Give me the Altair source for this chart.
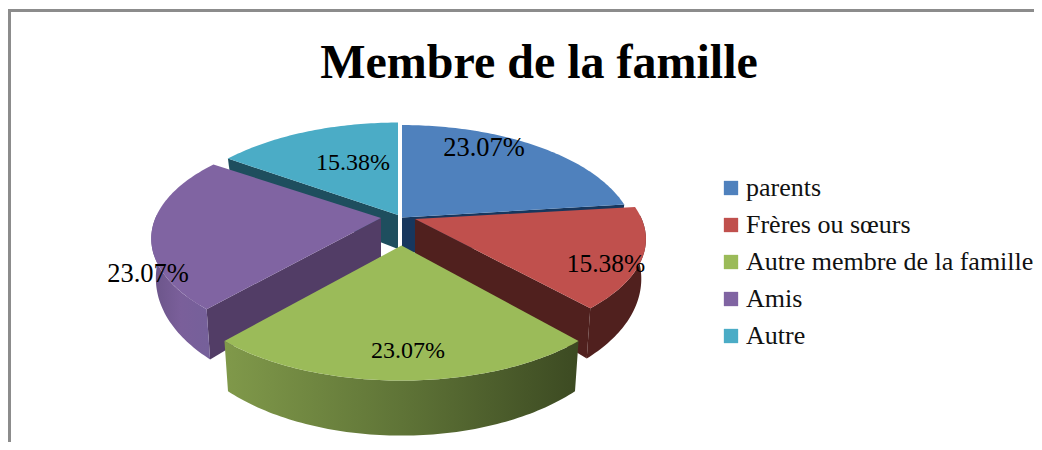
import math
import altair as alt
import pandas as pd

title = "Membre de la famille"
categories = ["parents", "Frères ou sœurs", "Autre membre de la famille", "Amis", "Autre"]
values = [23.07, 15.38, 23.07, 23.07, 15.38]
colors = ["#4f81bd", "#c0504d", "#9bbb59", "#8064a2", "#4bacc6"]
cut_colors = ["#17375e", "#50201e", "#3c4a22", "#523d66", "#1e4e5e"]

# layout of the exploded 3-D pie, in page pixels
apex = [(402, 217.5), (415, 219), (401.5, 245.5), (381, 218), (398, 215)]
apex_depth = [36, 36, 36, 39, 34]
squeeze_x = [1, 0.99, 1, 0.985, 1]
squeeze_y = [1, 0.93, 0.995, 0.95, 1]
label_pos = [(484, 156), (606, 272), (408, 358), (148, 282), (353, 170)]
label_size = [26.5, 25.5, 24, 26.5, 24]
A, B, K = 229, 110, 0.19
W, H = 1026, 434
OX, OY = 8, 8

xs = alt.Scale(domain=[OX, OX + W], range=[0, W])
ys = alt.Scale(domain=[OY, OY + H], range=[0, H])


def rim(i, deg):
    t = math.radians(deg)
    u, v = math.sin(t), -math.cos(t)
    d = 1 - K * v
    return apex[i][0] + squeeze_x[i] * A * u / d, apex[i][1] + squeeze_y[i] * B * v / d, v


def low(i, px, py, v):
    depth = 36 + 19 * v
    return apex[i][0] + (px - apex[i][0]) * 0.98, py + depth


def arc_pts(i, a0, a1):
    n = max(2, int(abs(a1 - a0)))
    return [rim(i, a0 + (a1 - a0) * j / n) for j in range(n + 1)]


def poly(pts, fill=None, cat=None):
    df = pd.DataFrame({"x": [p[0] for p in pts], "y": [p[1] for p in pts], "o": range(len(pts))})
    enc = dict(x=alt.X("x:Q", scale=xs, axis=None), y=alt.Y("y:Q", scale=ys, axis=None), order="o:O")
    if cat is not None:
        df["serie"] = cat
        enc["fill"] = alt.Fill(
            "serie:N",
            scale=alt.Scale(domain=categories, range=colors),
            legend=alt.Legend(
                title=None, orient="none", legendX=710, legendY=167, symbolType="square",
                symbolSize=205, symbolStrokeWidth=0, labelFont="Liberation Serif",
                labelFontSize=26, labelColor="#111111", rowPadding=11, labelOffset=2,
                padding=0, symbolOpacity=1, labelLimit=400,
            ),
        )
        return alt.Chart(df).mark_line(strokeOpacity=0, interpolate="linear").encode(**enc)
    return alt.Chart(df).mark_line(strokeOpacity=0, fill=fill, interpolate="linear").encode(**enc)


def grad(c0, c1, c2):
    return {
        "gradient": "linear", "x1": 0, "x2": 1, "y1": 0, "y2": 0,
        "stops": [{"offset": 0, "color": c0}, {"offset": 0.5, "color": c1}, {"offset": 1, "color": c2}],
    }


total = sum(values)
edges = [0]
for val in values:
    edges.append(edges[-1] + 360 * val / total)


def top_face(i):
    return [(apex[i][0], apex[i][1], 0)] + arc_pts(i, edges[i], edges[i + 1])


def cut_wall(i, deg):
    x, y, v = rim(i, deg)
    lx, ly = low(i, x, y, v)
    a = apex[i]
    return [(a[0], a[1]), (x, y), (lx, ly), (a[0], a[1] + apex_depth[i])]


def outer_wall(i, a0, a1):
    up = arc_pts(i, a0, a1)
    down = [low(i, p[0], p[1], p[2]) for p in reversed(up)]
    return [(p[0], p[1]) for p in up] + down


layers = [
    alt.Chart(pd.DataFrame({"k": [0]})).mark_rule(color="#8c8c8c", strokeWidth=3).encode(
        x=alt.value(0), x2=alt.value(W), y=alt.value(2.5)),
    alt.Chart(pd.DataFrame({"k": [0]})).mark_rule(color="#8c8c8c", strokeWidth=3).encode(
        x=alt.value(1.5), y=alt.value(1), y2=alt.value(H)),
]

# back to front: teal, blue, purple, red, green
layers += [poly(cut_wall(4, edges[4]), cut_colors[4]), poly(top_face(4), cat=categories[4])]
layers += [poly(cut_wall(0, edges[1]), cut_colors[0]), poly(top_face(0), cat=categories[0])]
layers += [
    poly(cut_wall(3, edges[3]), cut_colors[3]),
    poly(outer_wall(3, edges[3], 272), grad("#6a5488", "#7a5f9a", "#75609a")),
    poly(top_face(3), cat=categories[3]),
]
layers += [
    poly(cut_wall(1, edges[2]), cut_colors[1]),
    poly(outer_wall(1, 88, edges[2]), cut_colors[1]),
    poly(top_face(1), cat=categories[1]),
]
layers += [
    poly(outer_wall(2, edges[2], edges[3]), grad("#80994a", "#5f7437", "#3c4a22")),
    poly(top_face(2), cat=categories[2]),
]

labels = pd.DataFrame({
    "x": [p[0] for p in label_pos], "y": [p[1] for p in label_pos],
    "t": [f"{v:.2f}%" for v in values], "fs": label_size,
})
layers.append(
    alt.Chart(labels).mark_text(font="Liberation Serif", color="#000000", baseline="alphabetic").encode(
        x=alt.X("x:Q", scale=xs, axis=None), y=alt.Y("y:Q", scale=ys, axis=None), text="t:N",
        size=alt.Size("fs:Q", scale=None, legend=None))
)
layers.append(
    alt.Chart(pd.DataFrame({"x": [539], "y": [78], "t": [title]})).mark_text(
        font="Liberation Serif", fontSize=48, fontWeight="bold", color="#000000", baseline="alphabetic").encode(
        x=alt.X("x:Q", scale=xs, axis=None), y=alt.Y("y:Q", scale=ys, axis=None), text="t:N")
)

chart = alt.layer(*layers).properties(
    width=W, height=H, padding=0, autosize=alt.AutoSizeParams(type="none")
).configure_view(stroke=None)

chart.save("out.html", embed_options={"renderer": "svg", "actions": False})
